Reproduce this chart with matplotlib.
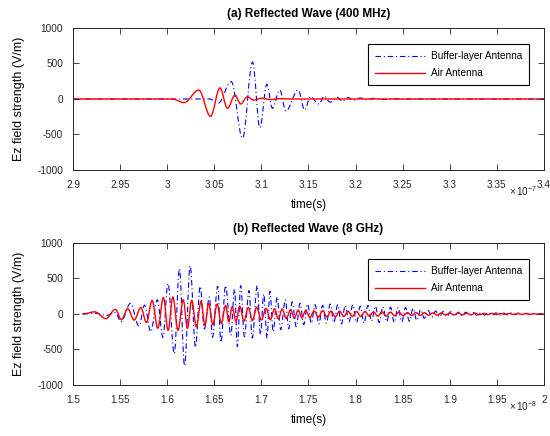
import matplotlib
matplotlib.use('Agg')
import matplotlib.pyplot as plt
from matplotlib.path import Path
from matplotlib.patches import PathPatch

plt.rcParams['font.family'] = ['Liberation Sans', 'DejaVu Sans']
plt.rcParams['mathtext.fontset'] = 'custom'
plt.rcParams['mathtext.rm'] = 'Liberation Sans'
plt.rcParams['mathtext.it'] = 'Liberation Sans:italic'
plt.rcParams['axes.unicode_minus'] = False

# =========================
# DATA (peaks / troughs)
# =========================
# (a) 400 MHz, time in units of 1e-7 s, field in V/m
t_air_400 = [2.90, 3.005, 3.018, 3.0335, 3.046, 3.056, 3.064, 3.072, 3.078, 3.085,
             3.092, 3.100, 3.110, 3.120, 3.130, 3.40]
ez_air_400 = [0, 0, -50, 125, -245, 155, -130, 55, -70, 30,
              -15, 10, -8, 5, 0, 0]

t_buf_400 = [2.90, 3.045, 3.054, 3.068, 3.080, 3.0906, 3.0984, 3.1058, 3.1117, 3.1195,
             3.126, 3.139, 3.146, 3.152, 3.161, 3.1667, 3.173, 3.180, 3.186, 3.192,
             3.198, 3.205, 3.212, 3.220, 3.230, 3.240, 3.250, 3.260, 3.40]
ez_buf_400 = [0, 0, -60, 244, -553, 520, -404, 207, -130, 127,
              -169, 127, -155, 33, -70, 40, -45, 25, -30, 20,
              -15, 15, -12, 10, -8, 6, -5, 0, 0]

# (b) 8 GHz, time in units of 1e-8 s
t_air_8g = [1.510, 1.523, 1.535, 1.545, 1.5515, 1.558, 1.565, 1.572, 1.578, 1.584,
            1.590, 1.596, 1.601, 1.606, 1.6115, 1.617, 1.6215, 1.626, 1.631, 1.636,
            1.640, 1.644, 1.6485, 1.653, 1.6575, 1.662, 1.6655, 1.669, 1.673, 1.677,
            1.6815, 1.686, 1.6905, 1.695, 1.700, 1.705, 1.7095, 1.714, 1.718, 1.722,
            1.7265, 1.731, 1.735, 1.739, 1.743, 1.747, 1.7515, 1.756, 1.7605, 1.765,
            1.7695, 1.774, 1.7785, 1.783, 1.7875, 1.792, 1.7965, 1.801, 1.8055, 1.810,
            1.8145, 1.819, 1.8235, 1.828, 1.8325, 1.837, 1.8415, 1.846, 1.8505, 1.855,
            1.8595, 1.864, 1.8685, 1.873, 1.8775, 1.882, 1.8865, 1.891, 1.8955, 1.900,
            1.9045, 1.909, 1.9135, 1.918, 1.9225, 1.927, 1.9315, 1.936, 1.9405, 1.945,
            1.9495, 1.954, 1.9585, 1.963, 1.9675, 1.972, 1.9765, 1.981, 1.9855, 1.990,
            1.9945, 2.000]
ez_air_8g = [0, 30, -65, 65, -80, 75, -85, 90, -120, 190,
             -200, 230, -230, 240, -230, 200, -200, 190, -180, 180,
             -160, 150, -150, 140, -130, 120, -110, 100, -100, 110,
             -100, 90, -90, 95, -85, 80, -80, 75, -70, 70,
             -65, 60, -60, 55, -55, 50, -50, 45, -45, 45,
             -40, 40, -40, 40, -35, 40, -35, 35, -35, 35,
             -30, 30, -30, 30, -30, 25, -25, 25, -25, 20,
             -20, 20, -20, 18, -18, 15, -15, 15, -15, 12,
             -12, 12, -12, 10, -10, 10, -10, 8, -8, 8,
             -8, 6, -6, 6, -6, 5, -5, 5, -5, 4,
             -4, 0]

t_buf_8g = [1.510, 1.525, 1.535, 1.545, 1.551, 1.561, 1.570, 1.576, 1.5825, 1.5895,
            1.5955, 1.6008, 1.6075, 1.613, 1.6184, 1.6244, 1.630, 1.635, 1.6395, 1.6448,
            1.648, 1.6536, 1.657, 1.662, 1.6675, 1.6715, 1.6745, 1.678, 1.682, 1.6868,
            1.6903, 1.6956, 1.699, 1.7025, 1.706, 1.709, 1.7125, 1.7167, 1.7205, 1.7255,
            1.729, 1.7326, 1.737, 1.741, 1.745, 1.749, 1.753, 1.757, 1.761, 1.765,
            1.769, 1.773, 1.777, 1.781, 1.785, 1.789, 1.793, 1.797, 1.801, 1.805,
            1.809, 1.813, 1.817, 1.821, 1.825, 1.829, 1.833, 1.837, 1.841, 1.845,
            1.849, 1.853, 1.857, 1.861, 1.865, 1.869, 1.873, 1.877, 1.881, 1.885,
            1.889, 1.893, 1.897, 1.901, 1.905, 1.909, 1.913, 1.917, 1.921, 1.925,
            1.929, 1.933, 1.937, 1.941, 1.945, 1.949, 1.953, 1.957, 1.961, 1.965,
            1.969, 1.973, 1.977, 1.981, 1.985, 1.989, 1.993, 1.997, 2.000]
ez_buf_8g = [0, 10, -20, 20, -110, 150, -170, 125, -250, 200,
             -330, 430, -560, 640, -730, 680, -470, 390, -210, 240,
             -330, 390, -400, 400, -300, 350, -460, 400, -320, 330,
             -340, 400, -290, 280, -340, 320, -250, 240, -220, 200,
             -210, 170, -180, 150, -150, 140, -130, 130, -140, 120,
             -130, 140, -120, 130, -140, 120, -110, 130, -120, 110,
             -130, 120, -100, 110, -120, 100, -110, 95, -120, 90,
             -110, 90, -100, 80, -90, 60, -60, 50, -45, 40,
             -40, 35, -30, 30, -30, 25, -25, 25, -20, 20,
             -20, 18, -15, 20, -15, 15, -15, 12, -12, 15,
             -10, 12, -10, 10, -10, 8, -8, 8, 0]

labels = ['Buffer-layer Antenna', 'Air Antenna']
titles = ['(a) Reflected Wave (400 MHz)', '(b) Reflected Wave (8 GHz)']
xticks_400 = [2.9, 2.95, 3.0, 3.05, 3.1, 3.15, 3.2, 3.25, 3.3, 3.35, 3.4]
xticks_8g = [1.5, 1.55, 1.6, 1.65, 1.7, 1.75, 1.8, 1.85, 1.9, 1.95, 2.0]
yticks = [-1000, -500, 0, 500, 1000]

# =========================
# HELPERS
# =========================
AX_COLOR = '#262626'
DASHDOT = (0, (5, 2.5, 1, 2.5))


def wave_path(t, v):
    # smooth curve through the extrema, flat tangent at each one
    verts = [(t[0], v[0])]
    codes = [Path.MOVETO]
    for i in range(1, len(t)):
        dt = t[i] - t[i - 1]
        verts += [(t[i - 1] + dt * 0.36, v[i - 1]), (t[i] - dt * 0.36, v[i]), (t[i], v[i])]
        codes += [Path.CURVE4] * 3
    return Path(verts, codes)


def draw_panel(ax, t_buf, ez_buf, t_air, ez_air, xticks, title, exponent):
    ax.add_patch(PathPatch(wave_path(t_buf, ez_buf), fill=False, edgecolor='#0000ff',
                           lw=0.8, linestyle=DASHDOT))
    ax.add_patch(PathPatch(wave_path(t_air, ez_air), fill=False, edgecolor='#ff0000', lw=1.0))
    ax.plot([], [], color='#0000ff', lw=0.8, linestyle=DASHDOT, label=labels[0])
    ax.plot([], [], color='#ff0000', lw=1.0, label=labels[1])

    ax.set_xlim(xticks[0], xticks[-1])
    ax.set_ylim(-1000, 1000)
    ax.set_xticks(xticks)
    ax.set_xticklabels([f'{x:g}' for x in xticks])
    ax.set_yticks(yticks)
    ax.tick_params(direction='in', top=True, right=True, length=4, width=0.6,
                   labelsize=7.2, colors=AX_COLOR)
    ax.tick_params(axis='x', pad=7)
    ax.tick_params(axis='y', pad=7)
    for s in ax.spines.values():
        s.set_linewidth(0.7)
        s.set_color(AX_COLOR)

    ax.set_title(title, fontsize=8.5, fontweight='bold', pad=8)
    ax.set_xlabel('time(s)', fontsize=8.5, labelpad=7)
    ax.set_ylabel('Ez field strength (V/m)', fontsize=9, labelpad=9)
    ax.text(0.985, -0.15, r'$\times\,10^{%d}$' % exponent, transform=ax.transAxes,
            ha='right', va='center', fontsize=7.2, color=AX_COLOR)

    leg = ax.legend(loc='upper right', bbox_to_anchor=(0.968, 0.887), fontsize=7.2,
                    handlelength=5.0, handletextpad=0.6, fancybox=False, framealpha=1,
                    borderpad=0.7, labelspacing=0.7, borderaxespad=0)
    leg.get_frame().set_edgecolor('black')
    leg.get_frame().set_linewidth(0.8)


# =========================
# PLOT
# =========================
fig = plt.figure(figsize=(5.5, 4.36), dpi=100)
ax1 = fig.add_axes([0.1327, 0.6101, 0.8564, 0.3257])
ax2 = fig.add_axes([0.1327, 0.117, 0.8564, 0.3257])

draw_panel(ax1, t_buf_400, ez_buf_400, t_air_400, ez_air_400, xticks_400, titles[0], -7)
draw_panel(ax2, t_buf_8g, ez_buf_8g, t_air_8g, ez_air_8g, xticks_8g, titles[1], -8)

fig.savefig('out.png', dpi=100)
